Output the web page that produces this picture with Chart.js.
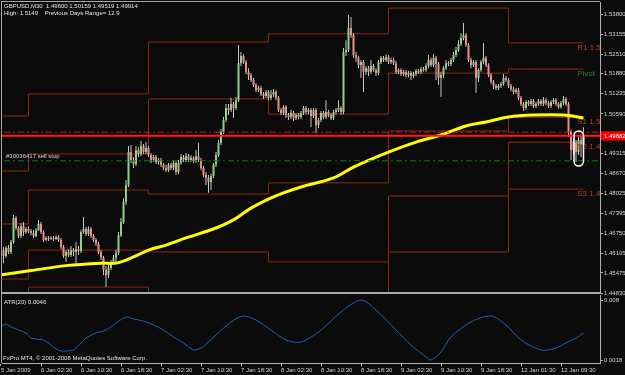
<!DOCTYPE html>
<html>
<head>
<meta charset="utf-8">
<script src="https://cdn.jsdelivr.net/npm/chart.js@4/dist/chart.umd.min.js"></script>
<style>
  html, body { margin:0; padding:0; background:#0b0b0b; }
  #wrap { position:relative; width:625px; height:375px; overflow:hidden; background:#0b0b0b; }
  canvas { position:absolute; left:0; }
  .txt { position:absolute; font-family:"Liberation Sans", Arial, sans-serif; font-size:6px; line-height:7px; color:#e8e8e8; white-space:pre; }
  .rule { position:absolute; background:#a8a8a8; }
</style>
</head>
<body>
<div id="wrap">
  <canvas id="mainChart" width="625" height="297" style="top:0"></canvas>
  <canvas id="atrChart" width="625" height="81" style="top:294px"></canvas>
  <div class="rule" style="left:1px;top:1px;width:599px;height:1px"></div>
  <div class="rule" style="left:1px;top:1px;width:1px;height:362px"></div>
  <div class="rule" style="left:1px;top:292px;width:599px;height:2px"></div>
  <div class="txt" id="hdr" style="left:4px;top:3px"></div>
  <div class="txt" id="atrLbl" style="left:4px;top:299px"></div>
  <div class="txt" style="left:3px;top:355px">FxPro MT4, © 2001-2008 MetaQuotes Software Corp.</div>
</div>
<script>
// ---------------- data ----------------
const symbolName = "GBPUSD,M30";
const headerLine2 = "High: 1.5149    Previous Days Range= 12.9";
const xTickBars = [0,16,32,48,64,80,96,112,128,144,160,176,192,208,224];
const xTickLabels = ["5 Jan 2009","6 Jan 02:30","6 Jan 10:30","6 Jan 18:30","7 Jan 02:30","7 Jan 10:30","7 Jan 18:30","8 Jan 02:30","8 Jan 10:30","8 Jan 18:30","9 Jan 02:30","9 Jan 10:30","9 Jan 18:30","12 Jan 01:30","12 Jan 09:30"];

const opens = [1.4608,
1.4621,1.4602,1.4628,1.4615,1.4647,1.4724,1.4692,1.4666,1.4698,1.4679,
1.4689,1.4682,1.4676,1.4666,1.4685,1.4705,1.4679,1.4653,1.4660,1.4657,
1.4660,1.4657,1.4663,1.4653,1.4631,1.4602,1.4615,1.4605,1.4621,1.4615,
1.4624,1.4618,1.4679,1.4689,1.4673,1.4689,1.4666,1.4653,1.4641,1.4615,
1.4596,1.4557,1.4541,1.4563,1.4583,1.4596,1.4612,1.4669,1.4711,1.4776,
1.4830,1.4936,1.4911,1.4898,1.4943,1.4930,1.4956,1.4936,1.4949,1.4927,
1.4911,1.4920,1.4904,1.4911,1.4895,1.4885,1.4878,1.4895,1.4885,1.4901,
1.4872,1.4901,1.4920,1.4911,1.4923,1.4911,1.4917,1.4907,1.4923,1.4911,
1.4885,1.4862,1.4853,1.4840,1.4859,1.4895,1.4927,1.4965,1.5001,1.5039,
1.5078,1.5071,1.5091,1.5078,1.5103,1.5222,1.5245,1.5226,1.5194,1.5184,
1.5168,1.5152,1.5136,1.5142,1.5123,1.5116,1.5129,1.5110,1.5120,1.5129,
1.5110,1.5071,1.5062,1.5081,1.5055,1.5049,1.5062,1.5046,1.5055,1.5049,
1.5062,1.5078,1.5065,1.5071,1.5052,1.5071,1.5023,1.5039,1.5062,1.5049,
1.5065,1.5055,1.5046,1.5065,1.5071,1.5078,1.5065,1.5258,1.5264,1.5335,
1.5312,1.5248,1.5239,1.5216,1.5226,1.5194,1.5206,1.5194,1.5213,1.5200,
1.5190,1.5226,1.5239,1.5232,1.5242,1.5226,1.5232,1.5222,1.5194,1.5200,
1.5187,1.5194,1.5184,1.5190,1.5181,1.5187,1.5197,1.5194,1.5203,1.5200,
1.5213,1.5232,1.5216,1.5239,1.5219,1.5174,1.5184,1.5206,1.5222,1.5219,
1.5232,1.5248,1.5264,1.5284,1.5303,1.5312,1.5280,1.5232,1.5216,1.5226,
1.5174,1.5200,1.5226,1.5239,1.5216,1.5184,1.5161,1.5149,1.5142,1.5149,
1.5155,1.5174,1.5168,1.5149,1.5139,1.5129,1.5136,1.5110,1.5091,1.5078,
1.5097,1.5091,1.5100,1.5084,1.5091,1.5100,1.5091,1.5103,1.5094,1.5084,
1.5097,1.5103,1.5091,1.5081,1.5094,1.5107,1.5091,1.5001,1.4943,1.4968,
1.4936,1.4975,1.49600];

const highs = [1.4631,
1.4631,1.4634,1.4637,1.4653,1.4734,1.4731,1.4698,1.4708,1.4711,1.4695,
1.4698,1.4689,1.4685,1.4692,1.4718,1.4711,1.4685,1.4666,1.4666,1.4666,
1.4666,1.4669,1.4669,1.4660,1.4637,1.4621,1.4624,1.4634,1.4628,1.4647,
1.4634,1.4685,1.4727,1.4695,1.4698,1.4695,1.4673,1.4660,1.4647,1.4621,
1.4602,1.4570,1.4573,1.4589,1.4605,1.4621,1.4679,1.4724,1.4788,1.4846,
1.4956,1.4959,1.4920,1.4956,1.4952,1.4972,1.4962,1.4968,1.4956,1.4933,
1.4927,1.4927,1.4917,1.4917,1.4901,1.4895,1.4901,1.4901,1.4911,1.4907,
1.4911,1.4930,1.4927,1.4933,1.4930,1.4927,1.4923,1.4943,1.4965,1.4917,
1.4891,1.4872,1.4862,1.4866,1.4901,1.4936,1.4975,1.5010,1.5049,1.5091,
1.5091,1.5110,1.5097,1.5113,1.5280,1.5258,1.5251,1.5232,1.5206,1.5190,
1.5174,1.5158,1.5149,1.5149,1.5129,1.5136,1.5136,1.5136,1.5139,1.5136,
1.5116,1.5078,1.5087,1.5087,1.5062,1.5071,1.5068,1.5062,1.5062,1.5068,
1.5084,1.5084,1.5078,1.5078,1.5078,1.5078,1.5046,1.5068,1.5068,1.5103,
1.5071,1.5062,1.5071,1.5078,1.5103,1.5084,1.5271,1.5296,1.5377,1.5370,
1.5319,1.5258,1.5245,1.5232,1.5232,1.5213,1.5213,1.5232,1.5219,1.5206,
1.5232,1.5245,1.5245,1.5251,1.5248,1.5239,1.5239,1.5229,1.5206,1.5206,
1.5200,1.5200,1.5197,1.5197,1.5194,1.5203,1.5203,1.5210,1.5210,1.5222,
1.5248,1.5239,1.5251,1.5245,1.5226,1.5194,1.5213,1.5232,1.5229,1.5239,
1.5258,1.5274,1.5296,1.5319,1.5351,1.5319,1.5287,1.5239,1.5232,1.5232,
1.5206,1.5232,1.5287,1.5245,1.5222,1.5190,1.5168,1.5155,1.5155,1.5161,
1.5187,1.5181,1.5174,1.5155,1.5145,1.5142,1.5142,1.5116,1.5097,1.5103,
1.5103,1.5107,1.5107,1.5097,1.5107,1.5107,1.5113,1.5110,1.5100,1.5103,
1.5110,1.5110,1.5097,1.5100,1.5116,1.5113,1.5097,1.5007,1.4981,1.4975,
1.4985,1.4988,1.50159];

const lows = [1.4596,
1.4579,1.4596,1.4608,1.4608,1.4641,1.4685,1.4660,1.4660,1.4666,1.4673,
1.4676,1.4669,1.4660,1.4663,1.4682,1.4673,1.4647,1.4650,1.4650,1.4653,
1.4650,1.4653,1.4647,1.4624,1.4596,1.4583,1.4599,1.4599,1.4602,1.4576,
1.4605,1.4612,1.4673,1.4666,1.4666,1.4660,1.4647,1.4634,1.4608,1.4589,
1.4541,1.4502,1.4531,1.4557,1.4576,1.4583,1.4605,1.4663,1.4705,1.4766,
1.4824,1.4901,1.4885,1.4891,1.4920,1.4923,1.4930,1.4930,1.4920,1.4901,
1.4904,1.4898,1.4895,1.4888,1.4878,1.4872,1.4872,1.4878,1.4878,1.4862,
1.4866,1.4895,1.4904,1.4904,1.4904,1.4904,1.4901,1.4901,1.4904,1.4878,
1.4856,1.4830,1.4805,1.4814,1.4853,1.4888,1.4920,1.4959,1.4994,1.5033,
1.5055,1.5065,1.5046,1.5071,1.5097,1.5213,1.5219,1.5187,1.5168,1.5161,
1.5145,1.5129,1.5129,1.5116,1.5107,1.5110,1.5103,1.5103,1.5113,1.5103,
1.5065,1.5055,1.5055,1.5046,1.5039,1.5042,1.5036,1.5039,1.5042,1.5042,
1.5055,1.5058,1.5058,1.5017,1.5046,1.4997,1.5013,1.5033,1.5042,1.5042,
1.5049,1.5039,1.5039,1.5058,1.5065,1.5055,1.5058,1.5245,1.5258,1.5303,
1.5239,1.5226,1.5206,1.5174,1.5129,1.5184,1.5181,1.5187,1.5194,1.5181,
1.5184,1.5219,1.5226,1.5226,1.5219,1.5219,1.5216,1.5187,1.5187,1.5181,
1.5181,1.5177,1.5177,1.5168,1.5174,1.5181,1.5187,1.5187,1.5194,1.5194,
1.5206,1.5210,1.5210,1.5168,1.5152,1.5113,1.5174,1.5200,1.5213,1.5213,
1.5226,1.5242,1.5258,1.5277,1.5296,1.5274,1.5226,1.5206,1.5210,1.5126,
1.5161,1.5194,1.5219,1.5210,1.5177,1.5155,1.5139,1.5136,1.5136,1.5142,
1.5149,1.5161,1.5142,1.5132,1.5123,1.5123,1.5103,1.5084,1.5068,1.5071,
1.5084,1.5084,1.5078,1.5078,1.5084,1.5084,1.5084,1.5087,1.5078,1.5078,
1.5091,1.5084,1.5075,1.5075,1.5087,1.5084,1.4985,1.4911,1.4927,1.4904,
1.4927,1.4920,1.49519];

const closes = [1.4621,
1.4602,1.4628,1.4615,1.4647,1.4724,1.4692,1.4666,1.4698,1.4679,1.4689,
1.4682,1.4676,1.4666,1.4685,1.4705,1.4679,1.4653,1.4660,1.4657,1.4660,
1.4657,1.4663,1.4653,1.4631,1.4602,1.4615,1.4605,1.4621,1.4615,1.4624,
1.4618,1.4679,1.4689,1.4673,1.4689,1.4666,1.4653,1.4641,1.4615,1.4596,
1.4557,1.4541,1.4563,1.4583,1.4596,1.4612,1.4669,1.4711,1.4776,1.4830,
1.4936,1.4911,1.4898,1.4943,1.4930,1.4956,1.4936,1.4949,1.4927,1.4911,
1.4920,1.4904,1.4911,1.4895,1.4885,1.4878,1.4895,1.4885,1.4901,1.4872,
1.4901,1.4920,1.4911,1.4923,1.4911,1.4917,1.4907,1.4923,1.4911,1.4885,
1.4862,1.4853,1.4840,1.4859,1.4895,1.4927,1.4965,1.5001,1.5039,1.5078,
1.5071,1.5091,1.5078,1.5103,1.5222,1.5245,1.5226,1.5194,1.5184,1.5168,
1.5152,1.5136,1.5142,1.5123,1.5116,1.5129,1.5110,1.5120,1.5129,1.5110,
1.5071,1.5062,1.5081,1.5055,1.5049,1.5062,1.5046,1.5055,1.5049,1.5062,
1.5078,1.5065,1.5071,1.5052,1.5071,1.5023,1.5039,1.5062,1.5049,1.5065,
1.5055,1.5046,1.5065,1.5071,1.5078,1.5065,1.5258,1.5264,1.5335,1.5312,
1.5248,1.5239,1.5216,1.5226,1.5194,1.5206,1.5194,1.5213,1.5200,1.5190,
1.5226,1.5239,1.5232,1.5242,1.5226,1.5232,1.5222,1.5194,1.5200,1.5187,
1.5194,1.5184,1.5190,1.5181,1.5187,1.5197,1.5194,1.5203,1.5200,1.5213,
1.5232,1.5216,1.5239,1.5219,1.5174,1.5184,1.5206,1.5222,1.5219,1.5232,
1.5248,1.5264,1.5284,1.5303,1.5312,1.5280,1.5232,1.5216,1.5226,1.5174,
1.5200,1.5226,1.5239,1.5216,1.5184,1.5161,1.5149,1.5142,1.5149,1.5155,
1.5174,1.5168,1.5149,1.5139,1.5129,1.5136,1.5110,1.5091,1.5078,1.5097,
1.5091,1.5100,1.5084,1.5091,1.5100,1.5091,1.5103,1.5094,1.5084,1.5097,
1.5103,1.5091,1.5081,1.5094,1.5107,1.5091,1.5001,1.4943,1.4968,1.4936,
1.4975,1.4960,1.49914];

const yTickValues = [1.53800,1.53155,1.52510,1.51880,1.51235,1.50590,1.49882,1.49315,1.48670,1.48025,1.47395,1.46750,1.46105,1.45475,1.44830];

// daily pivot levels (one value per day, first = 5 Jan)
const dayStartBars = [-1, 11, 59, 107, 155, 203];
const pivotEndBar = 233;
const pivotR1 = [1.5052, 1.5123, 1.5290, 1.5316, 1.5399, 1.5287];
const pivotP  = [1.4875, 1.4930, 1.5107, 1.5058, 1.5190, 1.5203];
const pivotS1 = [1.4705, 1.4814, 1.4801, 1.4837, 1.5004, 1.5048];
const pivotS2 = [1.4528, 1.4621, 1.4615, 1.4583, 1.4795, 1.4968];
const pivotS3 = [1.4358, 1.4502, 1.4313, 1.4364, 1.4615, 1.4817];
const pivotLabels = ["R1 1.5", "Pivot", "S1 1.5", "S2 1.4", "S3 1.4"];
const pivotLabelBar = 230.5;

// moving average (yellow)
const maBars   = [0, 12, 26, 40, 46, 53, 59, 66, 74, 86, 93, 100, 107, 113, 120, 133, 141, 155, 166, 176, 186, 194, 203, 213, 225, 233];
const maValues = [1.4541,1.4555,1.4571,1.4579,1.4579,1.4599,1.4621,1.4637,1.4660,1.4692,1.4718,1.4756,1.4785,1.4805,1.4824,1.4853,1.4888,1.4936,1.4968,1.4991,1.5020,1.5033,1.5049,1.5055,1.5055,1.5046];

// ATR(20)
const atrBars = [0,2,4,6,8,10,12,14,17,19,22,24,26,29,32,34,38,42,46,50,53,57,61,65,69,73,77,80,82,92,97,102,108,114,120,128,136,144,150,158,164,170,172,176,180,188,196,202,208,216,222,226,230,233];
const atrValues = [0.00521,0.00552,0.00521,0.00500,0.00480,0.00459,0.00407,0.00397,0.00387,0.00356,
0.00294,0.00273,0.00273,0.00283,0.00356,0.00407,0.00459,0.00490,0.00562,0.00624,
0.00604,0.00583,0.00542,0.00490,0.00418,0.00356,0.00283,0.00304,0.00345,0.00573,
0.00635,0.00593,0.00490,0.00387,0.00366,0.00490,0.00676,0.00800,0.00697,0.00490,
0.00335,0.00211,0.00180,0.00263,0.00418,0.00573,0.00635,0.00542,0.00387,0.00283,
0.00304,0.00356,0.00407,0.0046];
const atrTickValues = [0.0018, 0.008];
const atrTickLabels = ["0.0018", "0.008"];
const atrLabel = "ATR(20) 0.0046";

// horizontal objects
const redLinePrice = 1.49882;
const redDashPrice = 1.5000;
const sellStopPrice = 1.4908;
const sellStopText = "#30036417 sell stop";
const sellStopLabelBar = 2;
const markBars = [229.2, 233.0];
const markPrices = [1.4891, 1.5004];

// ---------------- view ----------------
const priceMin = 1.4483, priceMax = 1.54186;
const barMin = 0.4, barMax = 239.6;
const atrMin = 0.00149, atrMax = 0.008517;
const FONT = '"Liberation Sans", Arial, sans-serif';
const BULL = '#8fd08f', BEAR = '#f08c8c', WICK = '#c8c8c8';
const PIVOT_LINE = '#8c2a10', LEVEL_TEXT = '#b8401e', PIVOT_TEXT = '#1f8a1f';
const AXIS = '#b0b0b0', TICKTXT = '#d4d4d4';

const last = closes.length - 1;
document.getElementById('hdr').textContent =
  symbolName + "  " + [opens[last], highs[last], lows[last], closes[last]].map(v => v.toFixed(5)).join(" ") + "\n" + headerLine2;
document.getElementById('atrLbl').textContent = atrLabel;

const bodyData = closes.map((c, i) => ({ x: i, y: [opens[i], c] }));
const wickData = closes.map((c, i) => ({ x: i, y: [lows[i], highs[i]] }));
const bodyColors = closes.map((c, i) => c >= opens[i] ? BULL : BEAR);
const stepData = (levels) => {
  const d = levels.map((v, k) => ({ x: dayStartBars[k], y: v }));
  d.push({ x: pivotEndBar, y: levels[levels.length - 1] });
  return d;
};
const hline = (v) => [{ x: -10, y: v }, { x: 300, y: v }];
const pivotSeries = [pivotR1, pivotP, pivotS1, pivotS2, pivotS3];

const lineBase = { type: 'line', pointRadius: 0, fill: false, tension: 0, clip: 0 };
const datasets = [];
pivotSeries.forEach((lv) => datasets.push({ ...lineBase, data: stepData(lv), borderColor: PIVOT_LINE, borderWidth: 1, stepped: true, order: 10 }));
datasets.push({ type: 'bar', data: wickData, backgroundColor: WICK, maxBarThickness: 1, barPercentage: 1, categoryPercentage: 1, grouped: false, inflateAmount: 0, borderWidth: 0, order: 6 });
datasets.push({ type: 'bar', data: bodyData, backgroundColor: bodyColors, maxBarThickness: 2, barPercentage: 1, categoryPercentage: 1, grouped: false, inflateAmount: 0, borderWidth: 0, minBarLength: 1, order: 5 });
datasets.push({ ...lineBase, data: maBars.map((b, i) => ({ x: b, y: maValues[i] })), borderColor: '#ffff00', borderWidth: 3, tension: 0.35, order: 3 });
datasets.push({ ...lineBase, data: hline(sellStopPrice), borderColor: '#0d7a0d', borderWidth: 1, borderDash: [6, 3, 2, 3], order: 2 });
datasets.push({ ...lineBase, data: hline(redDashPrice), borderColor: '#c81e1e', borderWidth: 1, borderDash: [6, 3, 2, 3], order: 1 });
datasets.push({ ...lineBase, data: hline(redLinePrice), borderColor: '#ff1a1a', borderWidth: 2, order: 0 });

const overlay = {
  id: 'overlay',
  afterDatasetsDraw(chart) {
    const { ctx, chartArea: a, scales: { x, y } } = chart;
    ctx.save();
    ctx.beginPath(); ctx.rect(a.left, a.top, a.right - a.left, a.bottom - a.top); ctx.clip();
    ctx.font = '8px ' + FONT; ctx.textAlign = 'left'; ctx.textBaseline = 'middle';
    pivotSeries.forEach((lv, k) => {
      ctx.fillStyle = k === 1 ? PIVOT_TEXT : LEVEL_TEXT;
      ctx.fillText(pivotLabels[k], x.getPixelForValue(pivotLabelBar), y.getPixelForValue(lv[lv.length - 1]) + 5);
    });
    ctx.font = '6px ' + FONT; ctx.fillStyle = '#d8d8d8';
    ctx.fillText(sellStopText, x.getPixelForValue(sellStopLabelBar), y.getPixelForValue(sellStopPrice) - 4);
    const x0 = x.getPixelForValue(markBars[0]), x1 = x.getPixelForValue(markBars[1]);
    const y0 = y.getPixelForValue(markPrices[1]), y1 = y.getPixelForValue(markPrices[0]);
    ctx.strokeStyle = '#ffffff'; ctx.lineWidth = 1.5;
    ctx.beginPath(); ctx.roundRect(x0, y0, x1 - x0, y1 - y0, (x1 - x0) / 2); ctx.stroke();
    ctx.restore();
  }
};

new Chart(document.getElementById('mainChart'), {
  type: 'bar',
  data: { datasets },
  options: {
    responsive: false, devicePixelRatio: 1, animation: false, events: [],
    layout: { padding: { left: 2, top: 2, right: 0, bottom: 4 } },
    plugins: { legend: { display: false }, tooltip: { enabled: false } },
    scales: {
      x: { type: 'linear', min: barMin, max: barMax, offset: false, display: false },
      y: {
        type: 'linear', position: 'right', min: priceMin, max: priceMax,
        afterBuildTicks: s => { s.ticks = yTickValues.map(v => ({ value: v })); },
        afterFit: s => { s.width = 25; s.paddingTop = 0; s.paddingBottom = 0; },
        grid: { drawOnChartArea: false, tickLength: 3, color: AXIS },
        border: { color: AXIS },
        ticks: {
          padding: 1, autoSkip: false, font: { family: FONT, size: 6 },
          color: c => (c.tick && c.tick.value === redLinePrice) ? '#ffffff' : TICKTXT,
          showLabelBackdrop: c => !!(c.tick && c.tick.value === redLinePrice),
          backdropColor: '#ff0000', backdropPadding: { top: 1, bottom: 1, left: 3, right: 3 },
          callback: v => Number(v).toFixed(5)
        }
      }
    }
  },
  plugins: [overlay]
});

new Chart(document.getElementById('atrChart'), {
  type: 'line',
  data: { datasets: [{ data: atrBars.map((b, i) => ({ x: b, y: atrValues[i] })), borderColor: '#2163b4', borderWidth: 1, pointRadius: 0, tension: 0.3, clip: 0, fill: false }] },
  options: {
    responsive: false, devicePixelRatio: 1, animation: false, events: [],
    layout: { padding: { left: 2, top: 1, right: 0, bottom: 0 } },
    plugins: { legend: { display: false }, tooltip: { enabled: false } },
    scales: {
      x: {
        type: 'linear', min: barMin, max: barMax, offset: false,
        afterBuildTicks: s => { s.ticks = xTickBars.map(v => ({ value: v })); },
        afterFit: s => { s.height = 12; s.paddingLeft = 0; s.paddingRight = 0; },
        grid: { drawOnChartArea: false, tickLength: 3, color: AXIS },
        border: { color: AXIS },
        ticks: { align: 'start', padding: 1, autoSkip: false, maxRotation: 0, minRotation: 0, color: TICKTXT, font: { family: FONT, size: 6 }, callback: (v, i) => xTickLabels[i] }
      },
      y: {
        type: 'linear', position: 'right', min: atrMin, max: atrMax,
        afterBuildTicks: s => { s.ticks = atrTickValues.map(v => ({ value: v })); },
        afterFit: s => { s.width = 25; s.paddingTop = 0; s.paddingBottom = 0; },
        grid: { drawOnChartArea: false, tickLength: 3, color: AXIS },
        border: { color: AXIS },
        ticks: { padding: 1, autoSkip: false, color: TICKTXT, font: { family: FONT, size: 6 }, callback: (v, i) => atrTickLabels[i] }
      }
    }
  }
});
</script>
</body>
</html>
